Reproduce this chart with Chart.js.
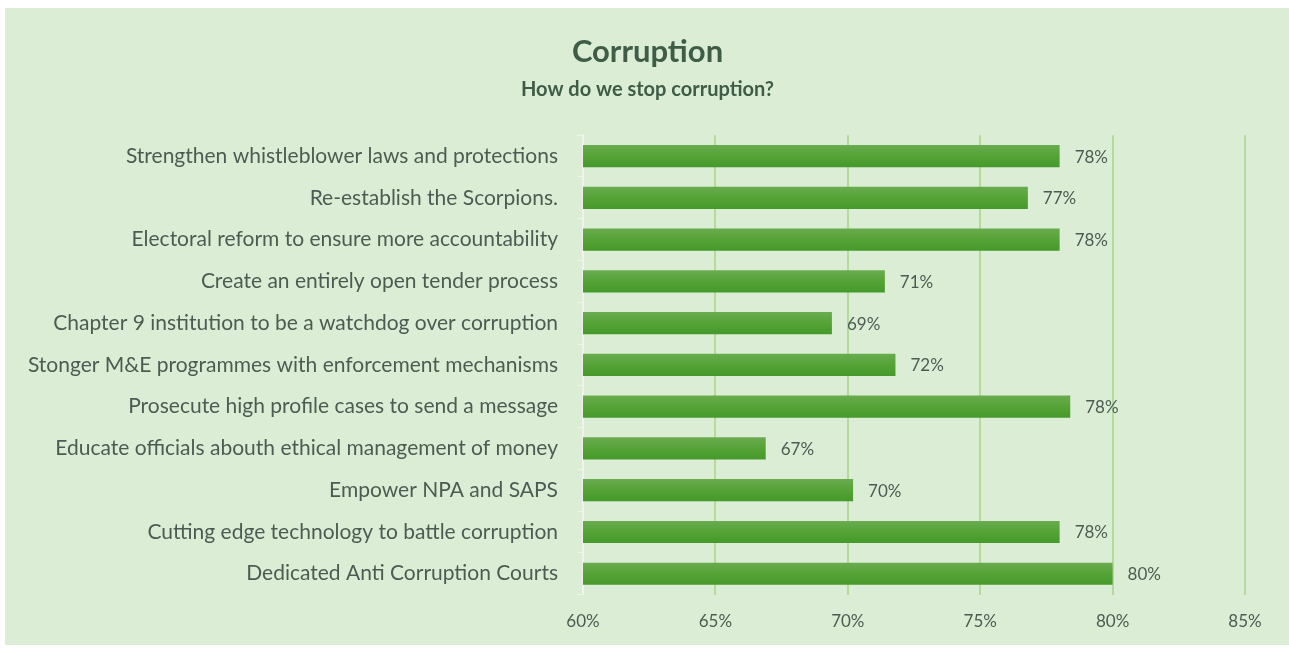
<!DOCTYPE html>
<html>
<head>
<meta charset="utf-8">
<script src="https://cdn.jsdelivr.net/npm/chart.js@4"></script>
<style>
  html, body { margin: 0; padding: 0; background: #ffffff; }
  .card {
    position: absolute; left: 5px; top: 8px; width: 1284px; height: 637px;
    background: #dbeed5; border-left: 1px solid #e3e6e3; box-sizing: border-box;
  }
  .card canvas { display: block; }
</style>
</head>
<body>
<div class="card"><canvas id="chart"></canvas></div>
<script>
// data
const categories = [
    'Strengthen whistleblower laws and protections',
    'Re-establish the Scorpions.',
    'Electoral reform to ensure more accountability',
    'Create an entirely open tender process',
    'Chapter 9 institution to be a watchdog over corruption',
    'Stonger M&E programmes with enforcement mechanisms',
    'Prosecute high profile cases to send a message',
    'Educate officials abouth ethical management of money',
    'Empower NPA and SAPS',
    'Cutting edge technology to battle corruption',
    'Dedicated Anti Corruption Courts'
];
const support = [78, 76.8, 78, 71.4, 69.4, 71.8, 78.4, 66.9, 70.2, 78, 80];
const xTicks = [60, 65, 70, 75, 80, 85];

const textColor = '#4d5c52';
const gridGreen = '#b4da9c';

function barGradient(ctx) {
    const chart = ctx.chart;
    if (!chart.chartArea || !chart.scales.y) return '#55a235';
    const y = chart.scales.y.getPixelForValue(ctx.dataIndex);
    const g = chart.ctx.createLinearGradient(0, y - 11, 0, y + 11);
    g.addColorStop(0, '#6aab50');
    g.addColorStop(0.5, '#55a336');
    g.addColorStop(1, '#45992a');
    return g;
}

// value labels at bar ends
const valueLabels = {
    id: 'valueLabels',
    afterDatasetsDraw(chart) {
        const ctx = chart.ctx;
        const meta = chart.getDatasetMeta(0);
        ctx.save();
        ctx.font = '17px Lato';
        ctx.fillStyle = textColor;
        ctx.textAlign = 'left';
        ctx.textBaseline = 'middle';
        meta.data.forEach((bar, i) => {
            ctx.fillText(Math.round(support[i]) + '%', bar.x + 15, bar.y + 1);
        });
        ctx.restore();
    }
};

const canvas = document.getElementById('chart');
new Chart(canvas, {
    type: 'bar',
    data: {
        labels: categories,
        datasets: [{
            data: support,
            backgroundColor: barGradient,
            borderWidth: 0,
            categoryPercentage: 1,
            barPercentage: 0.53
        }]
    },
    options: {
        indexAxis: 'y',
        responsive: true,
        maintainAspectRatio: false,
        animation: false,
        layout: { padding: { left: 0, right: 0, top: 0, bottom: -4 } },
        plugins: {
            legend: { display: false },
            tooltip: { enabled: false },
            title: {
                display: true,
                text: 'Corruption',
                color: '#3f5c47',
                font: { family: 'Lato', size: 31, weight: 'bold' },
                padding: { top: 25, bottom: 7 }
            },
            subtitle: {
                display: true,
                text: 'How do we stop corruption?',
                color: '#3f5c47',
                font: { family: 'Lato', size: 20, weight: 'bold' },
                padding: { top: 0, bottom: 34 }
            }
        },
        scales: {
            x: {
                min: 60,
                max: 85,
                afterBuildTicks(axis) {
                    axis.ticks = xTicks.map(v => ({ value: v }));
                },
                afterFit(axis) { axis.paddingRight = 44; axis.paddingLeft = 0; },
                border: { display: false },
                grid: {
                    color: ctx => (ctx.tick && ctx.tick.value === 60) ? 'rgba(0,0,0,0)' : gridGreen,
                    lineWidth: 2,
                    drawTicks: false
                },
                ticks: {
                    padding: 17,
                    color: textColor,
                    font: { family: 'Lato', size: 17 },
                    callback: v => v + '%'
                }
            },
            y: {
                afterFit(axis) {
                    axis.width = 577;
                    axis.paddingTop = 0;
                    axis.paddingBottom = 0;
                },
                border: { display: true, color: '#eef3ec', width: 2 },
                grid: {
                    offset: true,
                    drawOnChartArea: false,
                    color: '#eef3ec',
                    tickLength: 6
                },
                ticks: {
                    padding: 19,
                    color: textColor,
                    font: { family: 'Lato', size: 21 }
                }
            }
        }
    },
    plugins: [valueLabels]
});
</script>
</body>
</html>
